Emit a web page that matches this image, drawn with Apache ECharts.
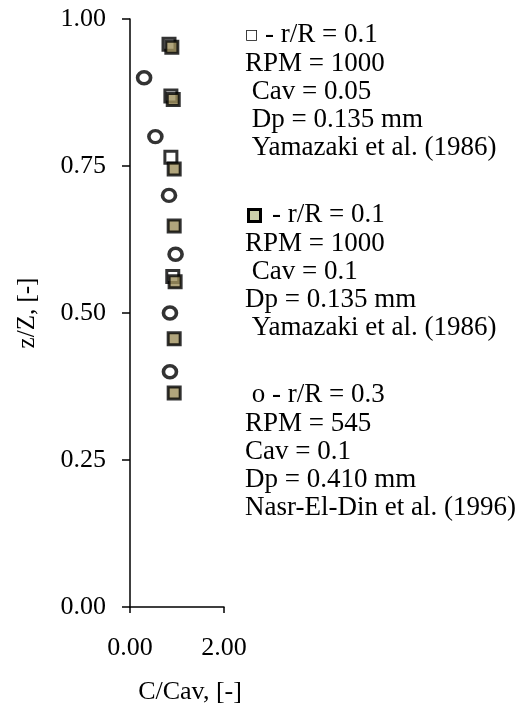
<!DOCTYPE html>
<html>
<head>
<meta charset="utf-8">
<script src="https://cdn.jsdelivr.net/npm/echarts@6/dist/echarts.min.js"></script>
<style>
  html, body { margin: 0; padding: 0; background: #fff; }
  #chart { width: 527px; height: 713px; }
</style>
</head>
<body>
<div id="chart"></div>
<script>
// Concentration profiles C/Cav against relative height z/Z
const xTicks = [0, 2];
const yTicks = [0, 0.25, 0.5, 0.75, 1];

// Yamazaki et al. (1986), r/R = 0.1, RPM 1000, Cav = 0.05
const yamaLowX = [0.83, 0.87, 0.87, 0.91];
const yamaLowZ = [0.957, 0.869, 0.765, 0.562];

// Yamazaki et al. (1986), r/R = 0.1, RPM 1000, Cav = 0.1
const yamaHighX = [0.89, 0.92, 0.94, 0.94, 0.96, 0.94, 0.94];
const yamaHighZ = [0.952, 0.863, 0.745, 0.648, 0.553, 0.456, 0.364];

// Nasr-El-Din et al. (1996), r/R = 0.3, RPM 545, Cav = 0.1
const nasrX = [0.30, 0.54, 0.83, 0.97, 0.85, 0.85];
const nasrZ = [0.90, 0.80, 0.70, 0.60, 0.50, 0.40];

const legendBlock1 = ['{box|\u25A1} - r/R = 0.1', 'RPM = 1000', ' Cav = 0.05', ' Dp = 0.135 mm', ' Yamazaki et al. (1986)'];
const legendBlock2 = ['    - r/R = 0.1', 'RPM = 1000', ' Cav = 0.1', 'Dp = 0.135 mm', ' Yamazaki et al. (1986)'];
const legendBlock3 = [' o - r/R = 0.3', 'RPM = 545', 'Cav = 0.1', 'Dp = 0.410 mm', 'Nasr-El-Din et al. (1996)'];

const FONT = '"Liberation Serif", "Times New Roman", serif';
const zip = (xs, ys) => xs.map((x, i) => [x, ys[i]]);

const chart = echarts.init(document.getElementById('chart'), null, { renderer: 'canvas' });

const textBlock = (lines, top) => ({
  type: 'text',
  left: 245,
  top: top,
  style: {
    text: lines.join('\n'),
    fontFamily: FONT,
    fontSize: 27,
    lineHeight: 28.3,
    fill: '#000',
    rich: {
      box: { fontFamily: '"DejaVu Sans"', fontSize: 14, fill: '#000', lineHeight: 28.3 }
    }
  }
});

chart.setOption({
  animation: false,
  backgroundColor: '#fff',
  grid: { left: 130, right: 303, top: 19, bottom: 106, containLabel: false },
  xAxis: {
    type: 'value',
    min: xTicks[0], max: xTicks[xTicks.length - 1], interval: 2,
    name: 'C/Cav, [-]',
    nameLocation: 'middle',
    nameGap: 72,
    nameTextStyle: { fontFamily: FONT, fontSize: 26, color: '#000', padding: [0, 0, 0, 26] },
    axisLine: { onZero: false, lineStyle: { color: '#000', width: 1.5 } },
    axisTick: { show: true, inside: false, length: 6, lineStyle: { color: '#000', width: 1.5 } },
    axisLabel: { fontFamily: FONT, fontSize: 26, color: '#000', margin: 28, formatter: v => v.toFixed(2) },
    splitLine: { show: false }
  },
  yAxis: {
    type: 'value',
    min: yTicks[0], max: yTicks[yTicks.length - 1], interval: 0.25,
    name: 'z/Z, [-]',
    nameLocation: 'middle',
    nameRotate: 90,
    nameGap: 90,
    nameTextStyle: { fontFamily: FONT, fontSize: 25, color: '#000' },
    axisLine: { show: true, onZero: false, lineStyle: { color: '#000', width: 1.5 } },
    axisTick: { show: true, inside: false, length: 8, lineStyle: { color: '#000', width: 1.5 } },
    axisLabel: { fontFamily: FONT, fontSize: 26, color: '#000', margin: 24, formatter: v => v.toFixed(2) },
    splitLine: { show: false }
  },
  series: [
    {
      name: 'Cav = 0.05',
      type: 'scatter',
      data: zip(yamaLowX, yamaLowZ),
      symbol: 'rect',
      symbolSize: 12,
      itemStyle: { color: '#fff', borderColor: '#000', borderWidth: 3 },
      z: 2
    },
    {
      name: 'Cav = 0.1',
      type: 'scatter',
      data: zip(yamaHighX, yamaHighZ),
      symbol: 'rect',
      symbolSize: 12,
      itemStyle: { color: '#9d8f5b', borderColor: '#000', borderWidth: 3 },
      z: 3
    },
    {
      name: 'Nasr-El-Din',
      type: 'scatter',
      data: zip(nasrX, nasrZ),
      symbol: 'circle',
      symbolSize: [13, 12],
      itemStyle: { color: '#fff', borderColor: '#000', borderWidth: 3.5 },
      z: 3
    }
  ],
  graphic: [
    textBlock(legendBlock1, 21),
    textBlock(legendBlock2, 201),
    textBlock(legendBlock3, 381),
    {
      // key swatch for the Cav = 0.1 series
      type: 'rect',
      shape: { x: 248.5, y: 209.5, width: 12, height: 12 },
      style: { fill: '#cdd1aa', stroke: '#000', lineWidth: 3 }
    }
  ]
});
</script>
</body>
</html>
